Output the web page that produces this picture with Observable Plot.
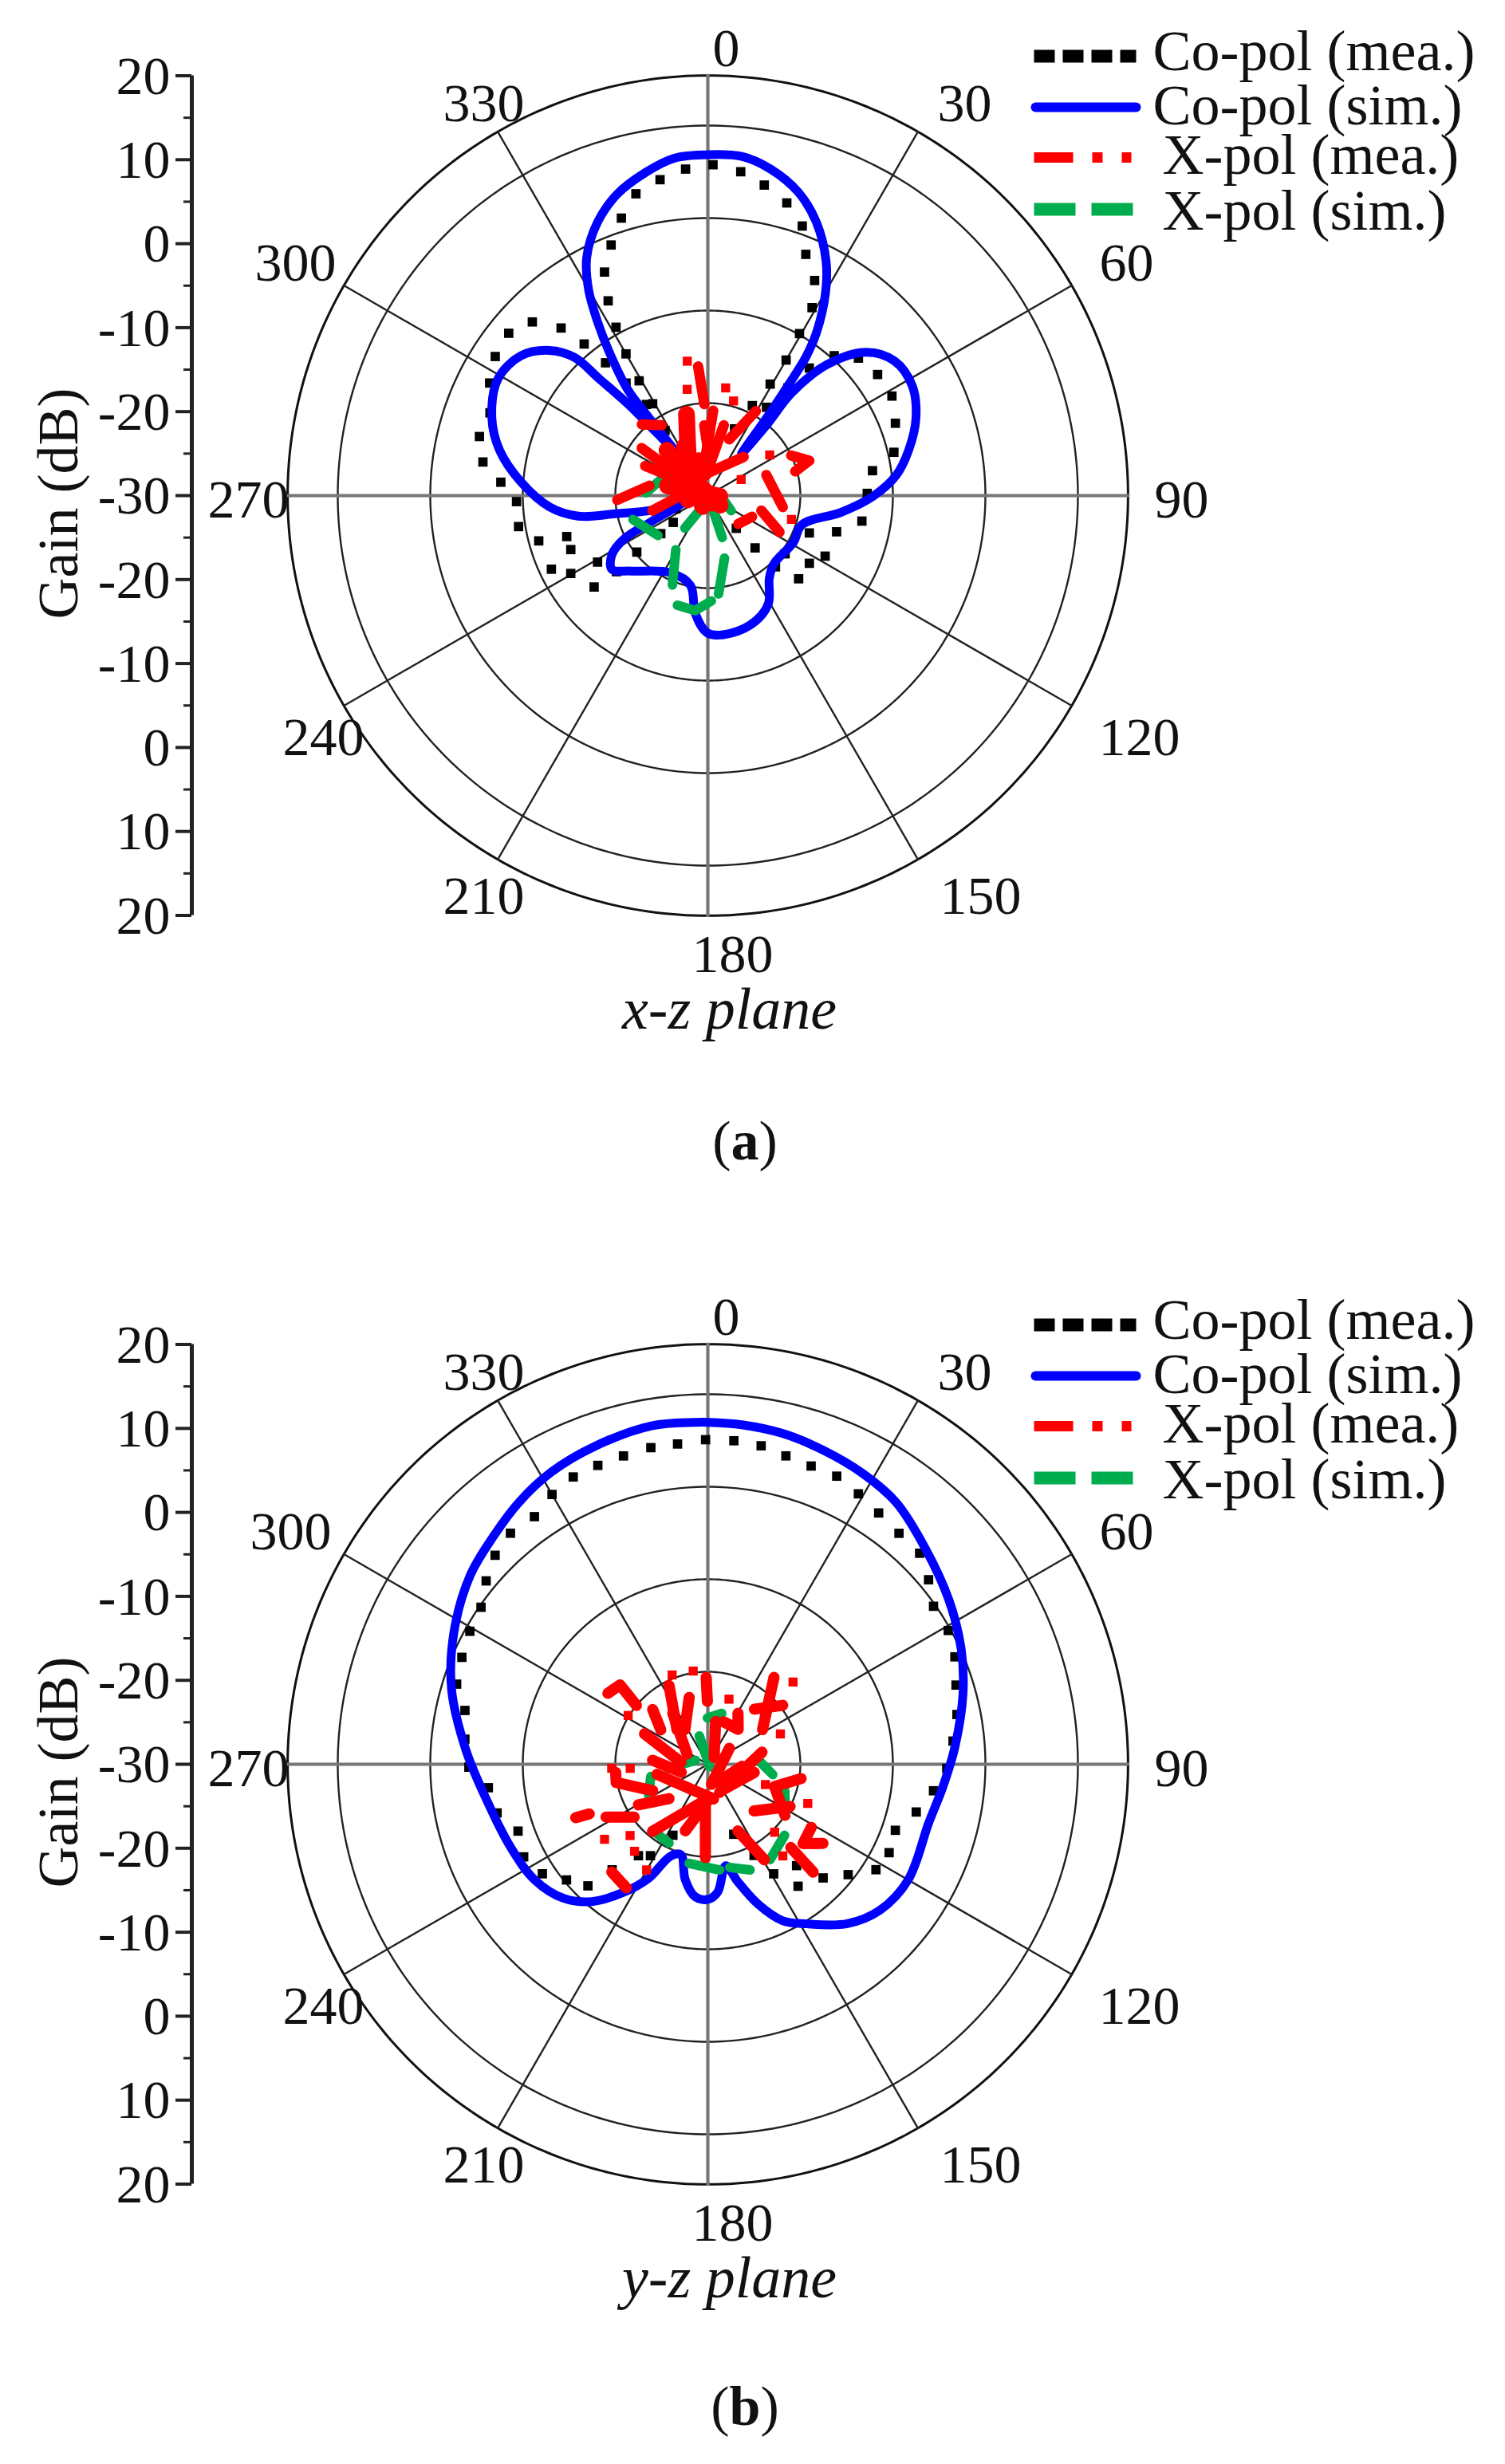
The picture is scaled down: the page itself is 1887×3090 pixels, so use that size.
<!DOCTYPE html>
<html><head><meta charset="utf-8">
<script src="https://cdn.jsdelivr.net/npm/d3@7"></script>
<script src="https://cdn.jsdelivr.net/npm/@observablehq/plot@0.6"></script>
<style>
html,body{margin:0;padding:0;background:#fff}
svg{display:block;background:#fff}
.cap{font-family:"Liberation Serif",serif;font-size:70px;color:#111;text-align:center;width:1868px;}
</style></head><body>
<div id="root"></div>
<script>
// ---------- shared labels ----------
const gainTickLabels = ["20","10","0","-10","-20","-30","-20","-10","0","10","20"];
const angleLabels = ["0","30","60","90","120","150","180","210","240","270","300","330"];
const ringGains = [-20,-10,0,10];
const outerRingGain = 15.42;
const spokeAngles = [0,30,60,90,120,150,180,210,240,270,300,330];
const legendNames = ["Co-pol (mea.)","Co-pol (sim.)","X-pol (mea.)","X-pol (sim.)"];

// ---------- panel (a) ----------
const coSimA_theta = [0,5.7,10.8,16.6,21.7,26.8,30.2,33.7,35.3,36.1,37.1,38.8,39.8,39.2,42.3,47.8,54.2,61.8,69.6,77.2,83.8,90.2,97.1,107.2,118.8,136,143.3,150.6,159,170.5,180,186,191,205.8,225.4,232.5,238.3,242.6,245,260,255,259,261,265.9,274.1,282.3,289.8,299.1,306.8,312.5,316,317.1,318.9,320.8,323.4,322.9,322.9,325.4,327.6,329.9,333,338,343.3,349.1,354.3,360];
const coSimA_gain = [6.85,6.85,5.96,4.23,1.77,-1.65,-4.73,-8.85,-11.69,-15.35,-19.5,-24.19,-20.08,-15.69,-10.85,-6.92,-5.12,-4.92,-6,-7.73,-9.5,-12.12,-15.46,-19.35,-19.46,-19.73,-18.88,-16.65,-15.5,-14.92,-15.12,-17.15,-20.12,-20.73,-18.38,-16.92,-17.81,-19.81,-23,-27.85,-24.23,-19.62,-15.81,-12.85,-9.77,-6.96,-5.19,-4.04,-4.77,-6.77,-9.23,-12.77,-16.85,-21.15,-23.88,-19.5,-15.65,-11.38,-7.77,-4.31,-1.15,1.85,4.04,5.58,6.65,6.85];
const coMeaA_theta = [0.9,5.8,10.3,15.1,19.3,22.1,26.4,29,29.5,30,29.2,26.3,21.8,33.6,36.6,38.5,42.1,47.6,54.5,61.6,68.9,76.9,81.4,89.2,99.4,105.7,110.2,117.3,123.7,132.5,127,136.5,137.9,139,257.7,247.7,232.3,231,231.5,230.2,238.9,240.4,231.2,244.8,248.5,253.8,255,260.7,268.2,273.7,278.5,284.5,290.8,297.3,303.2,309.2,314.7,318.8,320.8,322.4,324,326,326.7,329,329.1,330,331.4,332.9,335.2,338.9,342.7,346.6,351.4,356.1];
const coMeaA_gain = [5.77,5.19,4.12,2.77,0.88,-1.85,-4.04,-6.77,-9.88,-13.08,-16.19,-19.15,-22.23,-18.54,-15.5,-12.38,-9.62,-7.96,-7.46,-7.38,-8.27,-9.35,-12,-12.77,-13.12,-15.54,-18.31,-15.73,-16.81,-16.69,-19.54,-19.38,-22.38,-25.31,-27.85,-26.27,-25.27,-23.46,-20.19,-17.15,-16.08,-12.96,-14.23,-11.31,-14.08,-14.12,-11.08,-9.27,-9.31,-7.58,-5.42,-4.5,-4.81,-3.46,-2.54,-2.23,-3.31,-5.92,-8.85,-11.88,-14.96,-18.12,-21.58,-18.42,-15.54,-12.31,-9.27,-6.35,-3.38,-0.96,1.42,3.54,4.54,5.38];
const xMeaA_theta = [[355.7,357.8],[3.6,345.5],[12.8,355],[29.6,20.8],[42.8,350],[305.7,303],[295.4,300],[267.3,279.6],[254.8,291.8],[317.2,326.7],[357.1,3],[70.6,98.7],[105.6,117],[64.3,71,74.5],[132.9,115.6]];
const xMeaA_gain = [[-16,-20.1],[-20.8,-27.7],[-22.2,-27.8],[-19.5,-23.5],[-24.3,-27.7],[-21.2,-28.4],[-22.5,-27.1],[-20.2,-23.6],[-23.8,-28.2],[-19.5,-20.9],[-22.4,-26.2],[-23.3,-21.8],[-24,-21.3],[-20,-18.4,-20.2],[-25.5,-24.7]];
const xMeaA_coreTheta = [[345.3,279],[318,265],[316.5,127.6],[334.8,297],[315.8,145.7],[326.4,205],[345.7,257.7],[283.7,93.3]];
const xMeaA_coreGain = [[-20.9,-28],[-23.4,-29],[-26.9,-28.3],[-24.1,-28.5],[-24.2,-29],[-25.5,-28.7],[-26.1,-27.8],[-25.5,-28.7]];
const xMeaA_dotTheta = [56.7,105.9,64.2,351.3,349,9.4,15.2];
const xMeaA_dotGain = [-22,-20.6,-26,-15.3,-18.3,-18.2,-19.4];
const xSimA_theta = [[342,351.6],[272.6,290.3],[252.3,231.3],[215.2,205.1],[160.3,161.1],[75,122.9],[210.6,201.6],[165.1,173.8],[195.5,186.2,178.1]];
const xSimA_gain = [[-26.2,-27.4],[-23.3,-24.7],[-21.5,-23.1],[-25.7,-28.7],[-28.3,-25.2],[-28.8,-27],[-23.2,-19.6],[-23,-19.3],[-17.7,-17.5,-18.6]];

// ---------- panel (b) ----------
const coSimB_theta = [0,5.7,12.7,20.1,28.2,35.7,45,55.7,65.5,74.4,85.8,95.4,104.9,120,130.3,138.8,148.2,154.5,160.2,165.7,170,175.6,180,185.4,191.1,196.6,202,207.5,213.2,220.2,227.2,236.2,247.1,261.1,273.4,286.3,297.4,308.4,317,324.2,331.8,340.6,350.7,360];
const coSimB_gain = [6.97,6.89,6.67,6.18,5.61,4.87,3.16,1.54,0.09,-1.36,-3.2,-4.47,-5.3,-5,-5.61,-7.11,-9.7,-11.27,-13.9,-16.9,-18.86,-16.14,-15.39,-15.6,-17.3,-19.8,-19.3,-16.1,-13.5,-10.57,-8.7,-7.5,-6.88,-5.75,-3.8,-1.14,0.92,2.8,3.86,4.91,5.83,6.49,7.1,6.97];
const coMeaB_theta = [359.6,4.6,9.5,14.2,19.1,24.1,29.1,34.2,39.6,45.1,50.1,55,60.9,66.5,72.3,78.7,84.6,91,96.7,102.9,109.4,116,122.1,128.2,134.6,143.5,138.8,149,153.1,159.7,206.2,212.1,217.2,222.2,224.6,230.7,236.5,243.3,250.6,257,263.9,269.3,275.9,282.5,287.7,293.5,299.2,304.7,309.6,314.5,319.5,325,330,334.9,339.8,344.7,349.8,354.6];
const coMeaB_gain = [5.09,5.09,4.91,4.39,4.12,4.12,3.46,2.85,2.41,2.32,1.1,-0.22,-0.26,-0.88,-1.84,-2.54,-3.38,-4.17,-5.44,-6.89,-8.51,-8.2,-8.55,-10.7,-12.5,-13.6,-15.44,-16.18,-18.95,-21.93,-21.45,-18.33,-17.59,-14.6,-11.54,-10.26,-8.55,-7.72,-8.25,-6.62,-6.14,-4.17,-3.6,-3.11,-1.5,-1.01,-0.53,-0.18,1.1,2.24,2.85,2.68,3.68,4.3,4.43,4.56,4.78,4.78];
const xMeaB_theta = [[305.4,312.1,309.5],[333.8,318.2],[344.4,326.6],[314.8,306.2],[325.5,296.1],[295.7,274.3],[358.9,359.6],[10.3,43],[30.6,41,20.4],[37.3,57.6],[51.8,40.2],[53.5,169.8],[77.4,157.5],[100,152.4],[93.4,151.9],[98.7,108.5,123.5],[117.2,135.3],[155.8,149.4],[135.1,135.7],[124.5,129.8,121.4],[184.6,181.5],[177.3,198.7],[189.6,219.5],[170.6,258.8],[228.5,239.7],[244.4,258.7,264.9],[274.2,253.1],[242.6,234.3],[221.7,213.4],[248,247.3]];
const xMeaB_gain = [[-16.75,-17.2,-20],[-20.5,-25],[-22.5,-25.5],[-21.6,-23.7],[-23.3,-27.5],[-22.4,-27.1],[-20.6,-23.2],[-25.3,-29],[-23.6,-25,-25.1],[-18.2,-23],[-19.7,-22.2],[-27.1,-27.8],[-24,-26.7],[-24.9,-26.8],[-26.3,-27.8],[-19.8,-22.4,-20],[-20,-22.9],[-22.1,-18],[-17.3,-13.7],[-14.9,-16.6,-16.9],[-26.7,-19.9],[-26.3,-22.4],[-25.8,-20.6],[-26.2,-24.4],[-24.4,-21.3],[-23.4,-19.9,-20],[-24,-27],[-17.6,-20.2],[-14.4,-14],[-14.6,-16.1]];
const xMeaB_coreTheta = [];
const xMeaB_coreGain = [];
const xMeaB_dotTheta = [338.2,351.1,18,46,67.3,267.6,267,301.5,234,227.5,220.1,210.1,140.7,111.4,109.4,135.5];
const xMeaB_dotGain = [-19.6,-19.8,-22.6,-17.2,-21.5,-19.6,-21.6,-19.9,-16.2,-18.6,-17.7,-16.8,-17.2,-18.4,-23.4,-19.7];
const xSimB_theta = [[359.5,15.2],[343.3,141],[264,288],[87.8,99],[258,242.8],[109,123.5],[216.5,206.2],[190.6,173.6],[168,158.2],[132.8,146.8]];
const xSimB_gain = [[-25,-24.3],[-26.8,-29.7],[-25.7,-28.6],[-24.3,-22.9],[-23.7,-22.8],[-21.2,-20],[-20.7,-20.5],[-19.1,-18.5],[-18.6,-17.7],[-18.7,-17.7]];

// ---------- layout constants (pixels of the page) ----------
const W = 1887, cx = 887, cy = 621, pxPerDb = 11.6, axisPxPerStep = 105.3;
const H = 1380;
const SERIF = '"Liberation Serif", serif';
const INK = "#111";
const angleLabelPos = {a:[[23,-560],[322,-491],[525,-291],[594,6],[541,304],[342,503],[31,576],[-281,503],[-482,304],[-576,6],[-517,-291],[-281,-491]],
                       b:[[23,-560],[322,-491],[525,-291],[594,6],[541,304],[342,503],[31,576],[-281,503],[-482,304],[-576,6],[-523,-291],[-281,-491]]};
const legendRows = [
  {color:"#000", w:16, dash:"26,10", lx:[409,537], ly:-551, tx:558, ty:-557},
  {color:"#00f", w:12, dash:null,   lx:[411,537], ly:-487, tx:558, ty:-489},
  {color:"#f00", w:13, dash:"49,24,13,24,13", lx:[409,531], ly:-424, tx:570, ty:-427},
  {color:"#00ad4e", w:16, dash:"52,20", lx:[409,534], ly:-359, tx:570, ty:-357}
];

const u = v => v / pxPerDb;              // page px -> data units
const pol = (t, g) => { const r = g + 30, a = t * Math.PI / 180; return {x: r * Math.sin(a), y: r * Math.cos(a)}; };
const table = (ts, gs) => ts.map((t, i) => pol(t, gs[i]));
const segTable = (ts, gs) => ts.flatMap((s, k) => s.map((t, i) => ({...pol(t, gs[k][i]), k})));

function panel(id, planeLabel, d) {
  const circle = g => d3.range(0, 361, 1).map(t => pol(t, g));
  const axisX = u(240 - cx);
  const step = u(axisPxPerStep);
  const major = gainTickLabels.map((label, i) => ({label, y: (5 - i) * step}));
  const minor = d3.range(0, 10).map(i => ({y: (5 - i - 0.5) * step}));
  const spokes = spokeAngles.flatMap(t => [{...pol(t, -30), t}, {...pol(t, outerRingGain), t}]);
  const heavy = s => s.t % 90 === 0;
  const labels = angleLabels.map((label, i) => ({label, x: u(angleLabelPos[id][i][0]), y: -u(angleLabelPos[id][i][1])}));
  const legendLines = legendRows.flatMap((r, i) => r.lx.map(px => ({x: u(px), y: -u(r.ly), i})));

  const svg = Plot.plot({
    width: W, height: H, margin: 0,
    style: {background: "#fff"},
    x: {domain: [u(-cx), u(W - cx)], axis: null},
    y: {domain: [-u(H - cy), u(cy)], axis: null},
    marks: [
      // grid
      ...ringGains.map(g => Plot.line(circle(g), {x: "x", y: "y", stroke: "#222", strokeWidth: 2.4})),
      Plot.line(circle(outerRingGain), {x: "x", y: "y", stroke: "#111", strokeWidth: 3}),
      Plot.line(spokes.filter(s => !heavy(s)), {x: "x", y: "y", z: "t", stroke: "#222", strokeWidth: 2.4}),
      Plot.line(spokes.filter(heavy), {x: "x", y: "y", z: "t", stroke: "#777", strokeWidth: 4.2}),
      // gain axis
      Plot.ruleX([axisX], {y1: -5 * step, y2: 5 * step, stroke: "#222", strokeWidth: 5}),
      Plot.ruleY(major, {y: "y", x1: axisX - u(20), x2: axisX, stroke: "#222", strokeWidth: 4}),
      Plot.ruleY(minor, {y: "y", x1: axisX - u(10), x2: axisX, stroke: "#222", strokeWidth: 3}),
      Plot.text(major, {x: axisX - u(27), y: "y", dy: 1, text: "label", textAnchor: "end", fontSize: 68, fontFamily: SERIF, fill: INK}),
      Plot.text(["Gain (dB)"], {x: u(73 - cx), y: u(-10), text: d => d, rotate: -90, fontSize: 72, fontFamily: SERIF, fill: INK}),
      // angle labels
      Plot.text(labels, {x: "x", y: "y", text: "label", fontSize: 68, fontFamily: SERIF, fill: INK}),
      Plot.text([planeLabel], {x: u(27), y: -u(645), text: d => d, fontSize: 74, fontStyle: "italic", fontFamily: SERIF, fill: INK}),
      // series
      Plot.dot(table(d.coMeaT, d.coMeaG), {x: "x", y: "y", symbol: "square", r: 6.6, fill: "#000"}),
      Plot.line(table(d.coSimT, d.coSimG), {x: "x", y: "y", stroke: "#00f", strokeWidth: 11, curve: "catmull-rom", strokeLinejoin: "round"}),
      Plot.line(segTable(d.xSimT, d.xSimG), {x: "x", y: "y", z: "k", stroke: "#00ad4e", strokeWidth: 12}),
      Plot.line(segTable(d.xMeaT, d.xMeaG), {x: "x", y: "y", z: "k", stroke: "#f00", strokeWidth: d.redW}),
      Plot.line(segTable(d.xCoreT, d.xCoreG), {x: "x", y: "y", z: "k", stroke: "#f00", strokeWidth: 21}),
      Plot.dot(table(d.xMeaDotT, d.xMeaDotG), {x: "x", y: "y", symbol: "square", r: 6.4, fill: "#f00"}),
      // legend
      ...legendRows.map((r, i) => Plot.line(legendLines.filter(l => l.i === i), {x: "x", y: "y", stroke: r.color, strokeWidth: r.w, strokeDasharray: r.dash || undefined, strokeLinecap: r.dash ? "butt" : "round"})),
      Plot.text(legendRows.map((r, i) => ({label: legendNames[i], x: u(r.tx), y: -u(r.ty)})), {x: "x", y: "y", text: "label", textAnchor: "start", fontSize: 72, fontFamily: SERIF, fill: INK})
    ]
  });
  return svg;
}

const root = document.getElementById("root");
root.appendChild(panel("a", "x-z plane", {
  coSimT: coSimA_theta, coSimG: coSimA_gain, coMeaT: coMeaA_theta, coMeaG: coMeaA_gain,
  xMeaT: xMeaA_theta, xMeaG: xMeaA_gain, xCoreT: xMeaA_coreTheta, xCoreG: xMeaA_coreGain, xMeaDotT: xMeaA_dotTheta, xMeaDotG: xMeaA_dotGain,
  xSimT: xSimA_theta, xSimG: xSimA_gain, redW: 13}));
const capA = document.createElement("div");
capA.className = "cap"; capA.style.cssText = "height:211px;line-height:102px";
capA.innerHTML = "(<b>a</b>)";
root.appendChild(capA);
root.appendChild(panel("b", "y-z plane", {
  coSimT: coSimB_theta, coSimG: coSimB_gain, coMeaT: coMeaB_theta, coMeaG: coMeaB_gain,
  xMeaT: xMeaB_theta, xMeaG: xMeaB_gain, xCoreT: xMeaB_coreTheta, xCoreG: xMeaB_coreGain, xMeaDotT: xMeaB_dotTheta, xMeaDotG: xMeaB_dotGain,
  xSimT: xSimB_theta, xSimG: xSimB_gain, redW: 14}));
const capB = document.createElement("div");
capB.className = "cap"; capB.style.cssText = "height:119px;line-height:94px";
capB.innerHTML = "(<b>b</b>)";
root.appendChild(capB);
</script>
</body></html>
